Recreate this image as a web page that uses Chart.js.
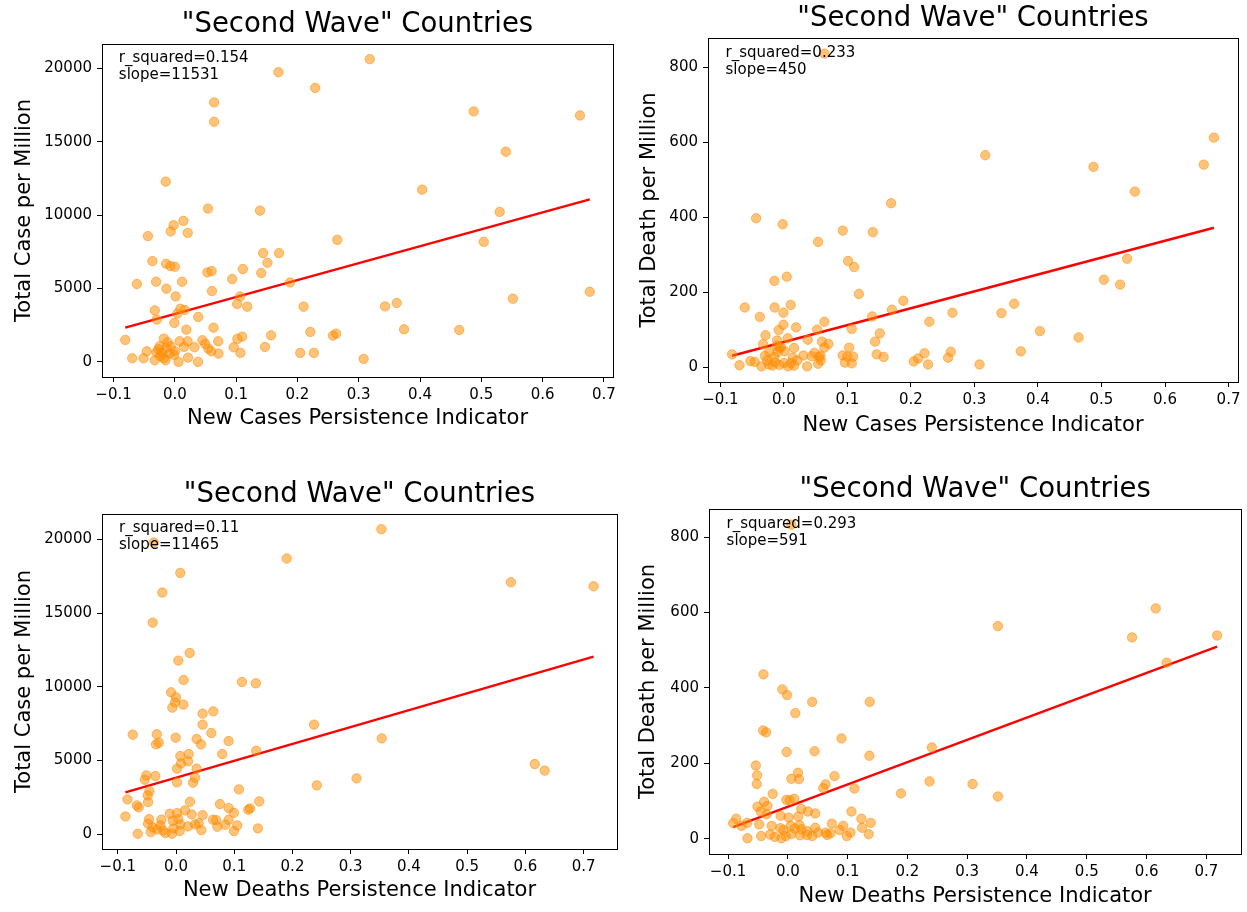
<!DOCTYPE html>
<html><head><meta charset="utf-8">
<script src="https://cdn.jsdelivr.net/npm/chart.js@4.4.1/dist/chart.umd.min.js"></script>
<style>
html,body{margin:0;padding:0;background:#fff;width:1247px;height:912px;overflow:hidden;position:relative}
.box{position:absolute}
</style></head><body>
<div class="box" style="left:0px;top:0px;width:623px;height:433px"><canvas id="c1"></canvas></div>
<div class="box" style="left:630px;top:0px;width:617px;height:440px"><canvas id="c2"></canvas></div>
<div class="box" style="left:0px;top:470px;width:627px;height:435px"><canvas id="c3"></canvas></div>
<div class="box" style="left:630px;top:466px;width:617px;height:444px"><canvas id="c4"></canvas></div>
<script>
// ---------- DATA ----------
const chartTitle = '"Second Wave" Countries';
const xTicks = [-0.1, 0.0, 0.1, 0.2, 0.3, 0.4, 0.5, 0.6, 0.7];
const caseTicks = [0, 5000, 10000, 15000, 20000];
const deathTicks = [0, 200, 400, 600, 800];

// Top-left: New Cases Persistence Indicator vs Total Case per Million
const tlPersist = [0.169,0.229,0.064,0.064,-0.015,0.054,0.139,0.014,-0.002,
 0.318,0.4875,0.661,0.540,0.4035,0.530,0.504,0.677,0.5515,0.362,0.343,0.374,0.464,0.308,
 -0.0068,0.021,-0.044,0.265,0.144,0.170,-0.0366,0.151,-0.0144,-0.0073,0.000,0.111,0.053,0.060,0.141,
 -0.062,-0.0306,0.0117,0.0935,0.188,-0.0138,0.0605,0.1065,0.0013,0.1016,0.118,0.210,-0.0328,0.009,0.016,
 0.004,0.038,-0.0296,-0.0008,0.063,0.0187,0.221,-0.081,0.157,0.258,0.263,0.1098,0.102,0.045,0.0707,
 -0.018,0.0078,0.0208,-0.012,-0.0247,-0.0068,0.032,0.0496,0.096,0.147,-0.0458,0.000,0.015,0.0545,
 -0.030,-0.0208,-0.0089,0.0593,0.0712,0.107,0.2046,0.2268,-0.0696,-0.0512,-0.0328,-0.0154,0.006,
 0.0214,0.0377,-0.0013,-0.024,-0.0176,-0.027,-0.0143];
const tlCases = [19750,18680,17690,16370,12290,10450,10310,9610,9320,
 20640,17075,16800,14330,11740,10225,8185,4780,4305,4010,3780,2220,2175,205,
 8885,8796,8572,8320,7415,7415,6871,6755,6687,6530,6483,6327,6096,6190,6054,
 5306,5463,5463,5647,5415,4987,4830,4463,4463,3946,3762,3762,3511,3626,3538,
 3286,3061,2878,2653,2333,2197,2041,1497,1810,1789,1925,1721,1565,1470,1401,
 1585,1401,1401,1333,1061,1061,993,1224,993,1020,721,721,1020,905,
 653,612,565,721,565,612,612,612,245,245,109,109,0,
 292,0,476,381,272,860,952];

// Top-right: New Cases Persistence Indicator vs Total Death per Million
const trPersist = [0.0638,0.1688,-0.0438,-0.0019,0.0926,0.140,
 0.0538,0.101,0.1105,-0.015,0.0045,0.118,0.188,-0.0617,-0.0147,0.0107,0.170,-0.0008,0.2654,-0.038,
 0.139,0.229,0.0638,-0.0008,0.0523,-0.0082,0.0192,0.1068,-0.029,0.151,0.0375,0.006,-0.0107,0.060,
 0.070,0.1436,0.0638,-0.0328,0.016,-0.007,0.1027,-0.0816,0.0307,0.048,0.0554,0.0575,0.0926,0.0999,
 0.109,0.146,0.157,0.2627,0.2585,0.2213,0.2113,0.2045,0.227,-0.070,-0.0528,-0.046,-0.0354,-0.0265,
 -0.024,-0.018,-0.014,-0.007,0.0002,0.0066,0.011,0.016,0.021,0.0365,0.0437,0.0538,0.058,0.096,
 0.1068,-0.015,-0.023,-0.0097,-0.011,-0.0045,0.0013,-0.030,0.0139,
 0.677,0.317,0.4874,0.661,0.5525,0.5404,0.5037,0.5294,0.3625,0.3425,0.403,0.464,0.373,0.308];
const trDeaths = [836,437,397,381,364,360,
 334,283,267,230,241,195,177,159,159,166,153,145,145,134,
 135,121,121,113,100,99,106,102,85,90,73,77,71,68,
 62,68,52,61,51,51,52,34,31,38,27,31,31,28,
 28,34,27,41,25,37,23,15,7,5,16,14,2,18,
 7,4,13,6,11,2,11,4,18,2,29,9,18,12,
 10,27,40,40,57,53,42,30,25,
 612,565,534,540,468,289,233,220,169,144,96,79,42,7];

// Bottom-left: New Deaths Persistence Indicator vs Total Case per Million
const blPersist = [-0.0382,0.190,0.0074,-0.0235,-0.040,0.0235,0.004,0.013,0.1132,0.137,-0.0086,0.000,-0.0017,0.0126,
 0.3526,0.575,0.717,0.237,0.3532,0.616,0.633,0.310,0.2417,
 -0.0063,0.0457,0.064,0.0457,-0.0743,-0.033,-0.0006,0.0606,-0.0343,-0.0297,0.0354,0.0429,0.0903,0.0794,
 0.1377,0.0074,0.0217,0.0206,0.0086,0.0354,0.0017,-0.0509,-0.0354,-0.0537,0.0326,0.0291,0.0017,0.108,
 -0.0457,-0.0486,-0.048,-0.0834,-0.0674,-0.064,0.024,0.0754,0.0903,0.0994,0.124,0.127,0.1429,-0.0869,
 -0.0463,-0.048,-0.0251,-0.0109,0.0017,0.0154,0.0269,0.0457,0.004,-0.0057,0.0074,0.0326,0.0389,0.0634,
 0.069,0.0903,0.0846,0.1051,0.1406,0.0994,0.071,0.0434,0.0206,-0.040,-0.0434,-0.0331,-0.0223,-0.0183,
 -0.0069,0.0063,-0.0657,-0.027,-0.0046];
const blCases = [19795,18708,17730,16398,14360,12295,11779,10461,10325,10237,9626,9286,8946,8790,
 20698,17098,16826,7432,6501,4755,4307,3784,3308,
 8585,8178,8335,7430,6750,6775,6546,6863,6094,6207,6455,6094,6320,5434,
 5660,5298,5434,4938,4802,4443,4443,3987,3942,3693,3829,3489,3512,3037,
 2921,2629,2174,2355,1950,1813,2197,2040,1767,1450,1654,1744,2219,1200,
 1019,702,974,1381,1427,1608,1336,1291,1019,906,657,657,747,974,
 951,974,634,589,385,204,498,272,521,453,136,317,249,68,
 23,204,23,589,385];

// Bottom-right: New Deaths Persistence Indicator vs Total Death per Million
const brPersist = [0.0058,-0.0408,-0.0092,-0.0013,0.0408,0.137,
 0.0125,-0.0414,-0.0364,0.0897,-0.002,0.0447,0.1364,-0.0536,-0.0514,-0.052,0.017,0.0058,0.0186,0.078,
 0.0592,0.0631,0.1114,0.1892,-0.0253,-0.0397,-0.0508,-0.0342,-0.0453,-0.0353,-0.0025,0.0031,0.0108,
 0.0225,0.0336,0.0458,0.1064,-0.0119,0.0014,0.0175,0.123,-0.0864,0.1386,0.1242,-0.0914,-0.068,-0.048,
 -0.027,-0.0125,0.0047,0.0197,0.0325,0.0458,0.0631,0.0736,0.0864,0.0925,0.1047,0.1353,0.0986,0.0658,
 -0.0675,-0.0447,-0.0297,-0.0219,-0.0108,-0.0036,0.0058,0.0203,0.032,0.0408,0.0225,0.0114,-0.0075,
 -0.0775,0.0503,0.0714,
 0.6153,0.3513,0.5758,0.718,0.6336,0.2408,0.237,0.309,0.3513];
const brDeaths = [833,436,396,381,363,363,
 333,287,282,266,230,232,220,194,168,145,175,159,158,166,
 134,144,133,120,119,98,85,87,72,65,103,102,106,
 79,72,67,72,61,56,59,53,53,42,29,41,42,38,
 34,28,34,36,20,29,16,40,23,34,16,12,7,10,
 1,7,11,5,1,7,12,9,10,7,25,27,23,
 34,16,14,
 611,564,534,539,467,242,152,145,112];

// Regression fits shown on each panel
const fitSlope = [11531, 450, 11465, 591];
const fitIntercept = [3274, 67, 3835, 85];
const fitRSquared = [0.154, 0.233, 0.11, 0.293];

const xLabels = ['New Cases Persistence Indicator','New Cases Persistence Indicator','New Deaths Persistence Indicator','New Deaths Persistence Indicator'];
const yLabels = ['Total Case per Million','Total Death per Million','Total Case per Million','Total Death per Million'];

// ---------- RENDER ----------
const FONT = '"DejaVu Sans", "Liberation Sans", sans-serif';
const PT_FILL = 'rgba(255,140,0,0.52)';
const PT_EDGE = 'rgba(255,140,0,0.55)';

const framePlugin = {
  id: 'frame',
  afterDatasetsDraw(chart, args, opts) {
    const {ctx, chartArea: a} = chart;
    ctx.save();
    ctx.strokeStyle = '#000';
    ctx.lineWidth = 1;
    ctx.strokeRect(Math.round(a.left) + 0.5, Math.round(a.top) + 0.5, Math.round(a.right - a.left), Math.round(a.bottom - a.top));
    ctx.font = '15px ' + FONT;
    ctx.fillStyle = '#000';
    ctx.textBaseline = 'alphabetic';
    ctx.textAlign = 'left';
    const x = a.left + 0.033 * (a.right - a.left);
    const y = a.top + 0.054 * (a.bottom - a.top);
    (opts.lines || []).forEach((t, i) => ctx.fillText(t, x, y + i * 17));
    ctx.restore();
  }
};

function fmtX(v) {
  const s = Number(v).toFixed(1);
  return s.replace('-', '\u2212');
}

function makeChart(id, xs, ys, idx, yTicks, lay) {
  const pts = xs.map((v, i) => ({x: v, y: ys[i]}));
  const xmin = Math.min(...xs), xmax = Math.max(...xs);
  const ymin = Math.min(...ys), ymax = Math.max(...ys);
  const mx = (xmax - xmin) * 0.05, my = (ymax - ymin) * 0.05;
  const fit = [xmin, xmax].map(v => ({x: v, y: fitIntercept[idx] + fitSlope[idx] * v}));
  new Chart(document.getElementById(id), {
    type: 'scatter',
    data: {
      datasets: [
        {data: pts, backgroundColor: PT_FILL, borderColor: PT_EDGE, borderWidth: 1, pointRadius: 4.7, pointHoverRadius: 4.7},
        {type: 'line', data: fit, borderColor: '#ff0000', borderWidth: 2.4, pointRadius: 0, fill: false, showLine: true}
      ]
    },
    plugins: [framePlugin],
    options: {
      responsive: true, maintainAspectRatio: false, animation: false,
      layout: {padding: {left: 0, right: lay.padRight, top: 0, bottom: 0}},
      plugins: {
        legend: {display: false}, tooltip: {enabled: false},
        title: {display: true, text: chartTitle, fullSize: false, color: '#000',
          font: {family: FONT, size: 27.5, weight: 'normal'}, padding: {top: lay.titleTop, bottom: 2.5}},
        frame: {lines: ['r_squared=' + fitRSquared[idx], 'slope=' + fitSlope[idx]]}
      },
      scales: {
        x: {
          type: 'linear', min: xmin - mx, max: xmax + mx,
          afterBuildTicks: s => { s.ticks = xTicks.map(v => ({value: v})); },
          afterFit: s => { s.height = lay.xHeight; },
          ticks: {autoSkip: false, maxRotation: 0, color: '#000', padding: 4, font: {family: FONT, size: 15}, callback: v => fmtX(v)},
          grid: {drawOnChartArea: false, drawTicks: true, tickLength: 5, color: '#000', tickWidth: 1},
          border: {display: false},
          title: {display: true, text: xLabels[idx], color: '#000', font: {family: FONT, size: 21}, padding: {top: 0, bottom: lay.xTitlePad}}
        },
        y: {
          type: 'linear', min: ymin - my, max: ymax + my,
          afterBuildTicks: s => { s.ticks = yTicks.map(v => ({value: v})); },
          afterFit: s => { s.width = lay.yWidth; },
          ticks: {autoSkip: false, color: '#000', padding: 5, font: {family: FONT, size: 15}, callback: v => String(v)},
          grid: {drawOnChartArea: false, drawTicks: true, tickLength: 5, color: '#000', tickWidth: 1},
          border: {display: false},
          title: {display: true, text: yLabels[idx], color: '#000', font: {family: FONT, size: 21}, padding: {top: lay.yTitlePad, bottom: 0}}
        }
      }
    }
  });
}

makeChart('c1', tlPersist, tlCases, 0, caseTicks, {padRight: 10, titleTop: 8.5, yWidth: 102, yTitlePad: 12.4, xHeight: 56, xTitlePad: 1.4});
makeChart('c2', trPersist, trDeaths, 1, deathTicks, {padRight: 9, titleTop: 2.5, yWidth: 78, yTitlePad: 7.4, xHeight: 58, xTitlePad: 1.4});
makeChart('c3', blPersist, blCases, 2, caseTicks, {padRight: 10, titleTop: 8.5, yWidth: 102, yTitlePad: 12.4, xHeight: 56, xTitlePad: 1.4});
makeChart('c4', brPersist, brDeaths, 3, deathTicks, {padRight: 5, titleTop: 7.5, yWidth: 79, yTitlePad: 6.4, xHeight: 56, xTitlePad: 0.4});
</script>
</body></html>
